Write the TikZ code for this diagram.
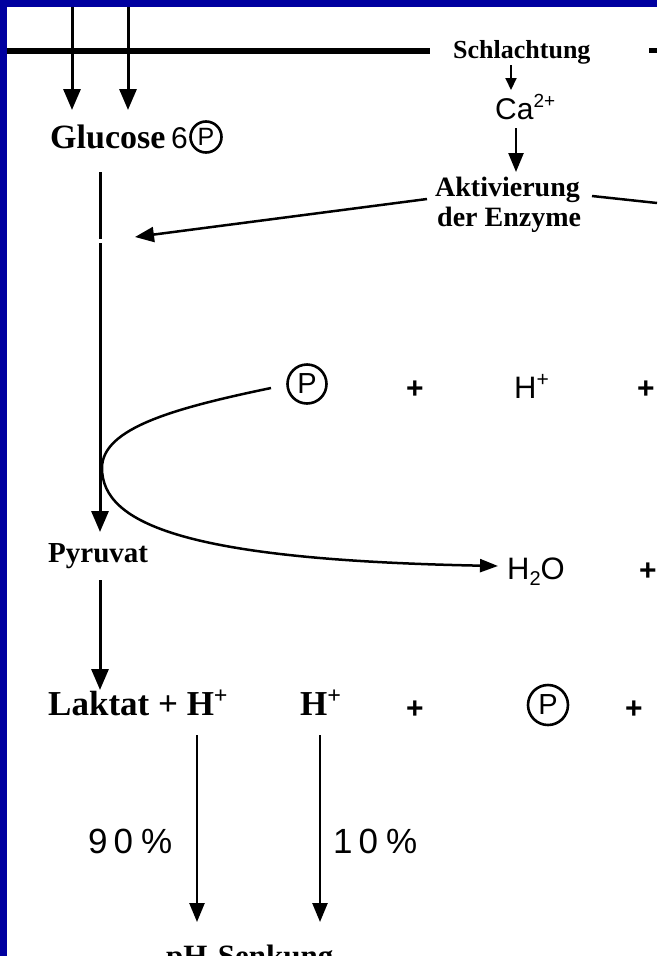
\documentclass[tikz,border=0pt]{standalone}
\usepackage{fontspec}
\setmainfont{Liberation Serif}
\newfontfamily\sansf{Liberation Sans}
\usetikzlibrary{arrows.meta}
\definecolor{frameblue}{RGB}{0,0,160}
\begin{document}
\begin{tikzpicture}[x=1pt,y=-1pt,
  serifb/.style={font=\bfseries\fontsize{#1}{#1}\selectfont, inner sep=0pt, anchor=base west},
  sanslbl/.style={font=\sansf\fontsize{#1}{#1}\selectfont, inner sep=0pt, anchor=base west},
  pcirc/.style={circle, draw, line width=2.6pt, inner sep=0pt, minimum size=#1, font=\sansf\fontsize{29}{29}\selectfont},
  plusmark/.style={font=\sansf\bfseries\fontsize{30}{30}\selectfont, inner sep=0pt},
  bigarrow/.style={line width=3pt, -{Triangle[length=21pt,width=17pt]}},
  midarrow/.style={line width=2.5pt, -{Triangle[length=19pt,width=15pt]}},
  smallarrow/.style={line width=2pt, -{Triangle[length=12pt,width=11pt]}},
  thinline/.style={line width=2.5pt}
]
\clip (0,0) rectangle (657,956);
\fill[frameblue] (0,0) rectangle (657,956);
\fill[white] (7,7) rectangle (657,956);

% top horizontal line and incoming arrows
\coordinate (hl) at (7,51);
\coordinate (hr) at (430,51);
\draw[line width=6pt] (hl) -- (hr);
\coordinate (a1s) at (72,7);
\coordinate (a1e) at (72,110);
\coordinate (a2s) at (128,7);
\coordinate (a2e) at (128,110);
\draw[bigarrow] (a1s) -- (a1e);
\draw[bigarrow] (a2s) -- (a2e);

% Schlachtung
\node[serifb=26] (schl) at (453,58) {Schlachtung};
\coordinate (dashl) at (649,50);
\coordinate (dashr) at (657,50);
\draw[line width=5pt] (dashl) -- (dashr);

% Ca2+
\node[sanslbl=30] (ca) at (495,119) {Ca\raisebox{12pt}{\fontsize{19}{19}\selectfont 2+}};
\coordinate (s1) at (511,65);
\coordinate (s2) at (511,90);
\draw[smallarrow] (s1) -- (s2);

% Aktivierung der Enzyme
\node[serifb=28] (akt) at (435,196) {Aktivierung};
\node[serifb=28] (enz) at (437,226) {der Enzyme};
\coordinate (c1) at (516,128);
\coordinate (c2) at (516,172);
\draw[midarrow] (c1) -- (c2);
\coordinate (ak1) at (427,199);
\coordinate (ak2) at (135,237);
\draw[midarrow] (ak1) -- (ak2);
\coordinate (ar1) at (592,196);
\coordinate (ar2) at (657,203);
\draw[thinline] (ar1) -- (ar2);

% Glucose 6 P
\node[serifb=34] (glu) at (50,148) {Glucose};
\node[sanslbl=30] (six) at (171,148) {6};
\node[pcirc=31pt, font=\sansf\fontsize{25}{25}\selectfont] (gluP) at (206,137) {P};

% main vertical line
\coordinate (v1) at (100,172);
\coordinate (v2) at (100,239);
\coordinate (v3) at (100,243);
\coordinate (v4) at (100,532);
\draw[line width=3pt] (v1) -- (v2);
\draw[bigarrow] (v3) -- (v4);

% P + H+ + row
\node[pcirc=39pt] (p2) at (307,384) {P};
\node[plusmark] (pl1) at (415,390) {+};
\node[sanslbl=31] (h1) at (514,398) {H\raisebox{12pt}{\fontsize{21}{21}\selectfont +}};
\node[plusmark] (pl2) at (646,390) {+};

% curve
\coordinate (cv) at (102,468);
\coordinate (cs) at (271,388);
\coordinate (ce) at (498,566);
\draw[line width=2.5pt, -{Triangle[length=18pt,width=13pt]}]
  (cs) .. controls (175,408) and (102,428) .. (cv)
       .. controls (102,525) and (190,560) .. (ce);

% Pyruvat, H2O
\node[serifb=29] (pyr) at (48,562) {Pyruvat};
\node[sanslbl=31] (h2o) at (507,579) {H\raisebox{-6pt}{\fontsize{20}{20}\selectfont 2}O};
\node[plusmark] (pl3) at (648,572) {+};

% Pyruvat -> Laktat
\coordinate (py1) at (100,580);
\coordinate (py2) at (100,690);
\draw[bigarrow] (py1) -- (py2);

% Laktat row
\node[serifb=35] (lak) at (48,715) {Laktat + H\raisebox{12pt}{\fontsize{24}{24}\selectfont +}};
\node[serifb=35] (h2) at (300,715) {H\raisebox{12pt}{\fontsize{24}{24}\selectfont +}};
\node[plusmark] (pl4) at (415,710) {+};
\node[pcirc=40pt] (p3) at (548,705) {P};
\node[plusmark] (pl5) at (634,710) {+};

% down arrows
\coordinate (d1s) at (197,735);
\coordinate (d1e) at (197,922);
\coordinate (d2s) at (320,735);
\coordinate (d2e) at (320,922);
\draw[midarrow] (d1s) -- (d1e);
\draw[midarrow] (d2s) -- (d2e);
\node[sanslbl=35] (p90) at (88,853) {9\kern6pt0\kern8pt\%};
\node[sanslbl=35] (p10) at (333,853) {1\kern6pt0\kern8pt\%};

% pH-Senkung
\node[serifb=31] (ph) at (166,966) {pH-Senkung};
\end{tikzpicture}
\end{document}
